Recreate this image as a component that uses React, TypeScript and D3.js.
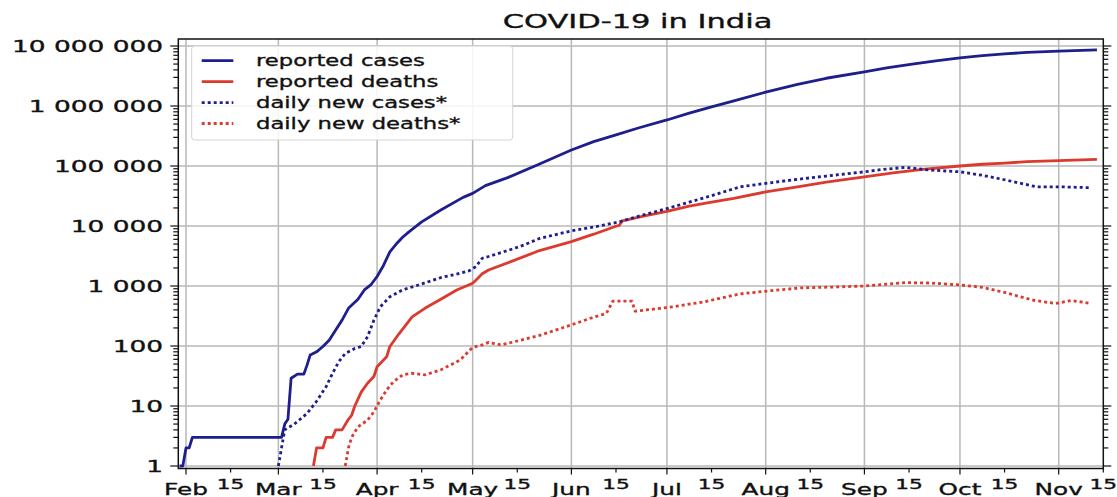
import React from "react";
import * as d3 from "d3";

const TITLE = "COVID-19 in India";

const reportedCases: [string, number][] = [
  ["01-30", 1], ["01-31", 1], ["02-01", 2], ["02-02", 2], ["02-03", 3], ["03-02", 3],
  ["03-03", 5], ["03-04", 6], ["03-05", 29], ["03-07", 34], ["03-09", 34], ["03-10", 48],
  ["03-11", 71], ["03-13", 80], ["03-15", 98], ["03-17", 126], ["03-19", 185], ["03-21", 270],
  ["03-23", 425], ["03-26", 600], ["03-28", 860], ["03-30", 1040], ["04-01", 1440], ["04-03", 2200],
  ["04-05", 3700], ["04-07", 5000], ["04-09", 6500], ["04-11", 8000], ["04-15", 11700], ["04-21", 18500],
  ["04-28", 30000], ["05-01", 35000], ["05-05", 47000], ["05-12", 64000], ["05-22", 108000],
  ["06-01", 185000], ["06-08", 255000], ["06-15", 330000], ["06-22", 430000], ["07-01", 585000],
  ["07-08", 760000], ["07-15", 970000], ["07-22", 1220000], ["08-01", 1700000], ["08-11", 2300000],
  ["08-20", 2900000], ["09-01", 3700000], ["09-08", 4300000], ["09-16", 5000000], ["09-24", 5700000],
  ["10-01", 6350000], ["10-08", 6900000], ["10-15", 7400000], ["10-22", 7800000], ["11-01", 8200000],
  ["11-13", 8650000],
];

const reportedDeaths: [string, number][] = [
  ["03-12", 1], ["03-13", 2], ["03-15", 2], ["03-16", 3], ["03-18", 3], ["03-19", 4], ["03-21", 4],
  ["03-23", 6], ["03-24", 7], ["03-25", 10], ["03-26", 13], ["03-27", 17], ["03-29", 24], ["03-31", 31],
  ["04-01", 45], ["04-04", 66], ["04-05", 98], ["04-08", 163], ["04-12", 305], ["04-16", 425],
  ["04-21", 600], ["04-26", 860], ["05-01", 1110], ["05-02", 1250], ["05-04", 1600], ["05-06", 1850],
  ["05-13", 2550], ["05-22", 3900], ["06-01", 5500], ["06-08", 7300], ["06-15", 9900], ["06-16", 10200],
  ["06-17", 12200], ["06-24", 14800], ["07-01", 17500], ["07-08", 21500], ["07-15", 25000],
  ["07-22", 29000], ["08-01", 37000], ["08-11", 45000], ["08-20", 54000], ["09-01", 66000],
  ["09-10", 77000], ["09-20", 89000], ["10-01", 100000], ["10-08", 107000], ["10-15", 112000],
  ["10-22", 118000], ["11-01", 123000], ["11-13", 129000],
];

const dailyNewCases: [string, number][] = [
  ["03-01", 1], ["03-03", 4], ["03-06", 5], ["03-10", 7.5], ["03-13", 12], ["03-16", 21], ["03-18", 35],
  ["03-20", 55], ["03-22", 75], ["03-25", 91], ["03-27", 98], ["03-29", 143], ["03-31", 270],
  ["04-02", 450], ["04-05", 660], ["04-09", 860], ["04-14", 1040], ["04-21", 1380], ["04-26", 1580],
  ["04-30", 1800], ["05-02", 2100], ["05-04", 2900], ["05-06", 3100], ["05-12", 3900], ["05-17", 4800],
  ["05-22", 6200], ["06-01", 8300], ["06-08", 9600], ["06-16", 11700], ["06-22", 14500], ["07-01", 19500],
  ["07-08", 25000], ["07-15", 32000], ["07-24", 45000], ["08-03", 53000], ["08-11", 60000],
  ["08-20", 68000], ["09-01", 80000], ["09-07", 88000], ["09-14", 95000], ["09-21", 86000],
  ["10-01", 80000], ["10-08", 70000], ["10-15", 59000], ["10-25", 45000], ["11-01", 45000],
  ["11-11", 43500],
];

const dailyNewDeaths: [string, number][] = [
  ["03-22", 1], ["03-23", 2], ["03-24", 3], ["03-26", 4.5], ["03-29", 5.8], ["03-31", 8], ["04-02", 12.6],
  ["04-04", 18.5], ["04-06", 25], ["04-09", 33], ["04-12", 35], ["04-16", 33], ["04-21", 40],
  ["04-27", 58], ["05-01", 95], ["05-04", 104], ["05-06", 115], ["05-10", 104], ["05-16", 125],
  ["05-22", 150], ["06-01", 225], ["06-07", 290], ["06-12", 350], ["06-14", 560], ["06-20", 560],
  ["06-21", 380], ["07-03", 450], ["07-13", 550], ["07-24", 740], ["08-03", 840], ["08-12", 930],
  ["08-22", 960], ["09-01", 1000], ["09-14", 1140], ["09-22", 1120], ["10-01", 1040], ["10-08", 950],
  ["10-15", 780], ["10-24", 580], ["10-31", 510], ["11-05", 575], ["11-11", 510],
];

const seriesNames = ["reported cases", "reported deaths", "daily new cases*", "daily new deaths*"];
const yTickValues = [1, 10, 100, 1000, 10000, 100000, 1000000, 10000000];
const yTickLabels = ["1", "10", "100", "1 000", "10 000", "100 000", "1 000 000", "10 000 000"];
const monthLabels = ["Feb", "Mar", "Apr", "May", "Jun", "Jul", "Aug", "Sep", "Oct", "Nov"];
const midMonthLabel = "15";

const BLUE = "#1e1e8c";
const RED = "#dc3a2e";
const FONT = "DejaVu Sans";

const W = 1117, H = 497;
const L = 178.3, R = 1103.3, T = 39, B = 468.5;

const parse = d3.utcParse("%Y-%m-%d");
const toPts = (arr: [string, number][]) => arr.map(([d, v]) => ({ date: parse("2020-" + d)!, v }));

export default function App() {
  const x = d3.scaleUtc()
    .domain([new Date(Date.UTC(2020, 0, 29, 14)), new Date(Date.UTC(2020, 10, 15))])
    .range([L, R]);
  const y = d3.scaleLog().domain([1, 1e7]).range([466, 46]);

  const line = d3.line<{ date: Date; v: number }>().x((d) => x(d.date)).y((d) => y(d.v));

  const series = [
    { name: seriesNames[0], data: toPts(reportedCases), color: BLUE, dash: undefined as string | undefined },
    { name: seriesNames[1], data: toPts(reportedDeaths), color: RED, dash: undefined as string | undefined },
    { name: seriesNames[2], data: toPts(dailyNewCases), color: BLUE, dash: "3 3" },
    { name: seriesNames[3], data: toPts(dailyNewDeaths), color: RED, dash: "3 3" },
  ];

  const months = monthLabels.map((_, i) => new Date(Date.UTC(2020, 1 + i, 1)));
  const mids = monthLabels.map((_, i) => new Date(Date.UTC(2020, 1 + i, 15)));

  const minorY: number[] = [];
  for (let e = 0; e < 7; e++) for (let k = 2; k <= 9; k++) minorY.push(k * Math.pow(10, e));
  for (let k = 2; k <= 9; k++) if (y(k * 1e7) >= T) minorY.push(k * 1e7);

  const txt = (content: string, tx: number, ty: number, size: number, sx: number, anchor: string, key?: any) => (
    <text key={key} transform={`translate(${tx},${ty}) scale(${sx},1)`} fontFamily={FONT} fontSize={size}
      textAnchor={anchor} fill="#111" stroke="#111" strokeWidth={0.35}>{content}</text>
  );

  const legX = 191.7, legY = 46, legW = 321, legH = 94;
  const rowY = [60.7, 81.7, 102.7, 123.5];

  return (
    <svg width={W} height={H} style={{ position: "absolute", left: 0, top: 0, background: "#fff" }}>
      <defs>
        <clipPath id="plotclip"><rect x={L} y={T} width={R - L} height={B - T} /></clipPath>
      </defs>
      <rect x={0} y={0} width={W} height={H} fill="#fff" />
      <g stroke="#b8b8b8" strokeWidth={1.5}>
        {months.map((m, i) => <line key={"gv" + i} x1={x(m)} x2={x(m)} y1={T} y2={B} />)}
        {yTickValues.map((v, i) => <line key={"gh" + i} x1={L} x2={R} y1={y(v)} y2={y(v)} />)}
      </g>
      <g clipPath="url(#plotclip)" fill="none">
        {series.map((s, i) => (
          <path key={"s" + i} d={line(s.data)!} stroke={s.color} strokeWidth={2.8}
            strokeDasharray={s.dash} strokeLinejoin="round" />
        ))}
      </g>
      <rect x={legX} y={legY} width={legW} height={legH} rx={3} fill="#fff" fillOpacity={0.85} stroke="#d4d4d4" strokeWidth={1} />
      {series.map((s, i) => (
        <g key={"lg" + i}>
          <line x1={201.7} x2={233.3} y1={rowY[i]} y2={rowY[i]} stroke={s.color} strokeWidth={2.8} strokeDasharray={s.dash} />
          {txt(s.name, 256, rowY[i] + 5.5, 16, 1.42, "start")}
        </g>
      ))}
      <rect x={L} y={T} width={R - L} height={B - T} fill="none" stroke="#111" strokeWidth={1.5} />
      <g stroke="#111" strokeWidth={1.2}>
        {yTickValues.map((v, i) => (
          <g key={"yt" + i}>
            <line x1={L - 8} x2={L} y1={y(v)} y2={y(v)} />
            <line x1={R} x2={R + 8} y1={y(v)} y2={y(v)} />
          </g>
        ))}
        {minorY.map((v, i) => (
          <g key={"ym" + i}>
            <line x1={L - 5} x2={L} y1={y(v)} y2={y(v)} />
            <line x1={R} x2={R + 5} y1={y(v)} y2={y(v)} />
          </g>
        ))}
        {months.map((m, i) => <line key={"xt" + i} x1={x(m)} x2={x(m)} y1={B} y2={B + 6} />)}
        {mids.map((m, i) => <line key={"xm" + i} x1={x(m)} x2={x(m)} y1={B} y2={B + 4} />)}
      </g>
      {yTickLabels.map((lab, i) => txt(lab, 163, y(yTickValues[i]) + 6, 16.5, 1.6, "end", "yl" + i))}
      {monthLabels.map((lab, i) => txt(lab, x(months[i]), 494.5, 16.5, 1.5, "middle", "ml" + i))}
      {mids.map((m, i) => txt(midMonthLabel, x(m), 489, 14.5, 1.5, "middle", "mm" + i))}
      {txt(TITLE, 637.5, 28, 19.8, 1.54, "middle")}
    </svg>
  );
}
